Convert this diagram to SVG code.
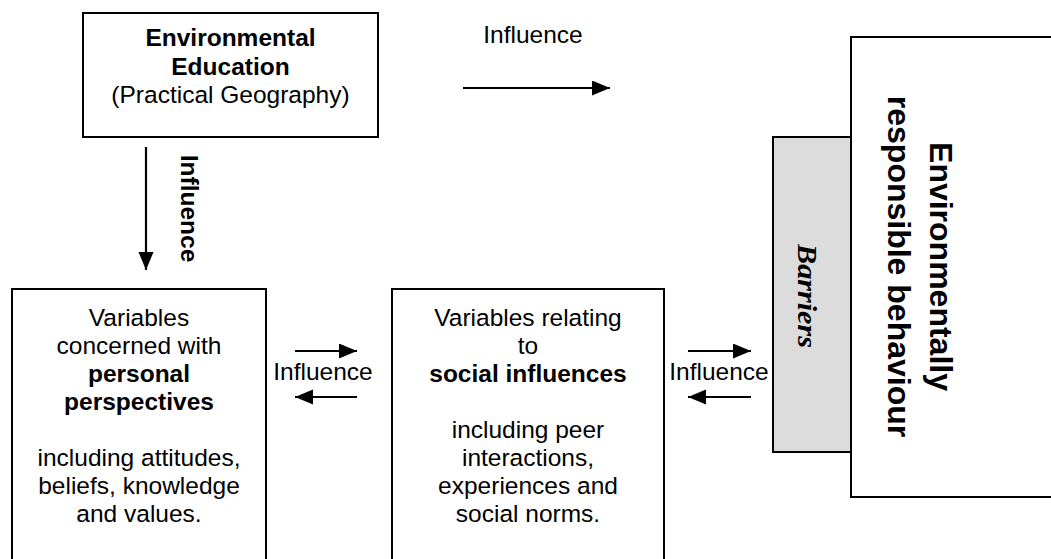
<svg xmlns="http://www.w3.org/2000/svg" width="1051" height="559" viewBox="0 0 1051 559">
<defs>
<marker id="ah" markerUnits="userSpaceOnUse" markerWidth="19" markerHeight="16" refX="18" refY="7.5" orient="auto">
<path d="M0,0 L18,7.5 L0,15 Z" fill="#000"/>
</marker>
</defs>
<style>
.box{fill:#fff;stroke:#000;stroke-width:2}
.bar{fill:#dcdcdc;stroke:#000;stroke-width:2}
.t{font-family:"Liberation Sans",Arial,sans-serif;font-size:24.5px;fill:#000;text-anchor:middle}
.b{font-weight:bold}
.c{stroke:#000;stroke-width:2.2;fill:none;marker-end:url(#ah)}
</style>
<rect width="1051" height="559" fill="#fff"/>
<g id="node-education">
<rect class="box" x="83" y="13" width="295" height="124"/>
<text class="t b" x="230.5" y="46">Environmental</text>
<text class="t b" x="230.5" y="75">Education</text>
<text class="t" x="230.5" y="103">(Practical Geography)</text>
</g>
<g id="node-personal">
<rect class="box" x="12" y="289" width="254" height="290"/>
<text class="t" x="139" y="326">Variables</text>
<text class="t" x="139" y="354">concerned with</text>
<text class="t b" x="139" y="382">personal</text>
<text class="t b" x="139" y="410">perspectives</text>
<text class="t" x="139" y="466">including attitudes,</text>
<text class="t" x="139" y="494">beliefs, knowledge</text>
<text class="t" x="139" y="522">and values.</text>
</g>
<g id="node-social">
<rect class="box" x="392" y="289" width="272" height="290"/>
<text class="t" x="528" y="326">Variables relating</text>
<text class="t" x="528" y="354">to</text>
<text class="t b" x="528" y="382">social influences</text>
<text class="t" x="528" y="438">including peer</text>
<text class="t" x="528" y="466">interactions,</text>
<text class="t" x="528" y="494">experiences and</text>
<text class="t" x="528" y="522">social norms.</text>
</g>
<g id="node-behaviour">
<rect class="box" x="851" y="37" width="220" height="460"/>
<g transform="translate(930,266.5) rotate(90)">
<text class="t b" style="font-size:32px" x="0" y="0">Environmentally</text>
<text class="t b" style="font-size:32px" x="0" y="42">responsible behaviour</text>
</g>
</g>
<g id="node-barriers">
<rect class="bar" x="773" y="137" width="78" height="315"/>
<text transform="translate(798,296) rotate(90)" x="0" y="0" text-anchor="middle" font-family="'Liberation Serif','Times New Roman',serif" font-style="italic" font-weight="bold" font-size="27" textLength="104" lengthAdjust="spacingAndGlyphs">Barriers</text>
</g>
<g id="connectors">
<line class="c" x1="463" y1="88" x2="610" y2="88"/>
<text class="t" x="533" y="43">Influence</text>
<line class="c" x1="146" y1="147" x2="146" y2="270"/>
<text class="t b" transform="translate(181,208.5) rotate(90)" x="0" y="0">Influence</text>
<line class="c" x1="295" y1="351" x2="357" y2="351"/>
<line class="c" x1="357" y1="397" x2="295" y2="397"/>
<text class="t" x="323" y="380">Influence</text>
<line class="c" x1="688" y1="351" x2="751" y2="351"/>
<line class="c" x1="751" y1="397" x2="688" y2="397"/>
<text class="t" x="719" y="380">Influence</text>
</g>
</svg>
